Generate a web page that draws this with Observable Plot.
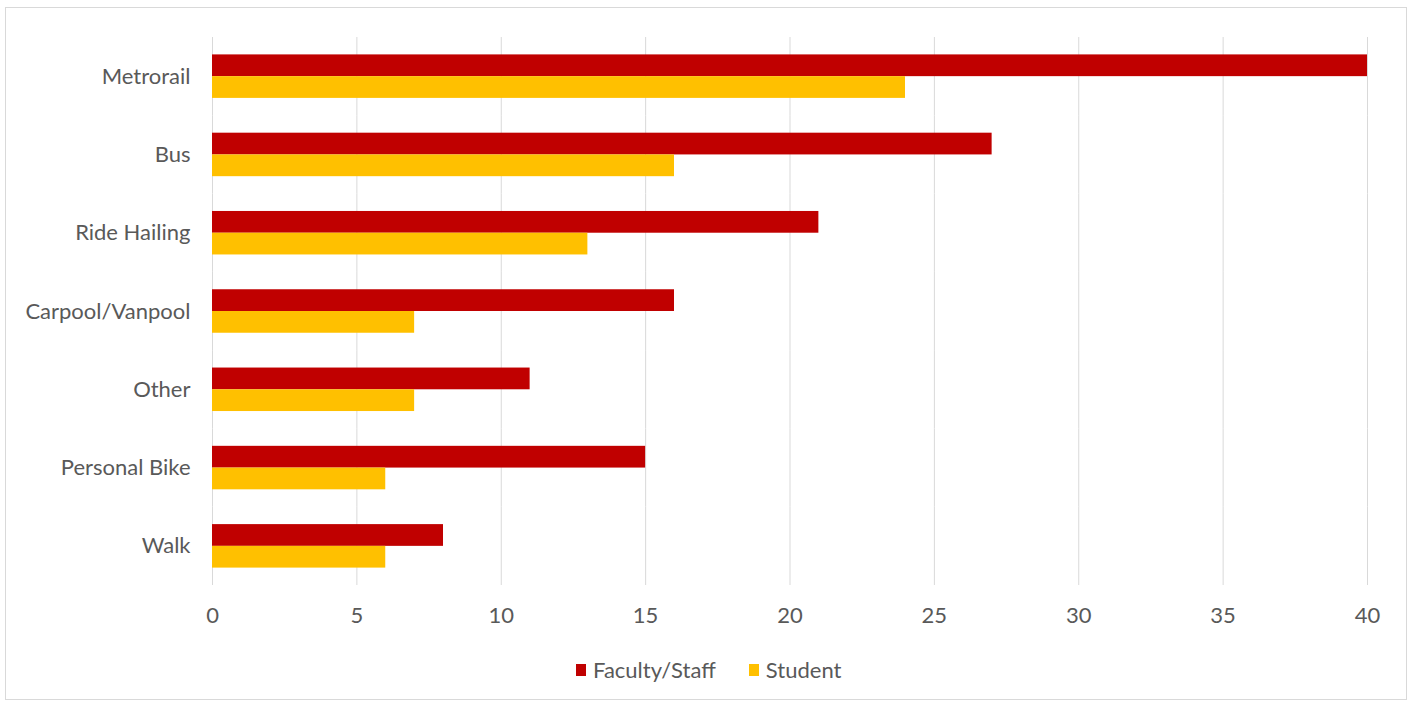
<!DOCTYPE html>
<html>
<head>
<meta charset="utf-8">
<script src="https://cdn.jsdelivr.net/npm/d3@7"></script>
<script src="https://cdn.jsdelivr.net/npm/@observablehq/plot@0.6"></script>
<style>
  html, body { margin: 0; padding: 0; background: #fff; }
  #wrap { position: relative; width: 1410px; height: 705px; overflow: hidden; font-family: Lato, "Open Sans", sans-serif; }
  #frame { position: absolute; left: 5px; top: 7px; width: 1402px; height: 693px; border: 1px solid #d9d9d9; box-sizing: border-box; }
  #chart { position: absolute; left: 0; top: 0; }
  #legend { position: absolute; left: 576px; top: 657px; height: 26px; display: flex; align-items: center; font-size: 22px; color: #595959; line-height: 26px; }
  .item { display: flex; align-items: center; }
  .item:first-child { margin-right: 33px; }
  .sw { width: 10px; height: 12px; margin-right: 7px; }
</style>
</head>
<body>
<div id="wrap">
  <div id="frame"></div>
  <div id="chart"></div>
  <div id="legend"></div>
</div>
<script>
const categories = ["Metrorail", "Bus", "Ride Hailing", "Carpool/Vanpool", "Other", "Personal Bike", "Walk"];
const series = ["Faculty/Staff", "Student"];
const facultyStaff = [40, 27, 21, 16, 11, 15, 8];
const student = [24, 16, 13, 7, 7, 6, 6];
const xTicks = [0, 5, 10, 15, 20, 25, 30, 35, 40];
const colors = ["#C00000", "#FFC000"];

const rows = [];
categories.forEach((c, i) => {
  rows.push({category: c, series: series[0], value: facultyStaff[i]});
  rows.push({category: c, series: series[1], value: student[i]});
});

const chart = Plot.plot({
  width: 1410,
  height: 645,
  marginLeft: 212,
  marginRight: 43,
  marginTop: 37,
  marginBottom: 60,
  style: {fontFamily: "Lato, 'Open Sans', sans-serif", fontSize: "22px", color: "#595959", background: "transparent"},
  x: {domain: [0, 40], axis: null},
  fy: {domain: categories, paddingInner: 0, paddingOuter: 0, axis: null, round: false},
  y: {domain: series, paddingInner: 0, paddingOuter: 0.8, axis: null, round: false},
  color: {domain: series, range: colors},
  marks: [
    Plot.gridX(xTicks, {stroke: "#d9d9d9", strokeOpacity: 1, strokeWidth: 1}),
    Plot.barX(rows, {x: "value", y: "series", fy: "category", fill: "series"}),
    Plot.axisFy({anchor: "left", tickSize: 0, tickPadding: 22, label: null, fill: "#595959"}),
    Plot.axisX(xTicks, {anchor: "bottom", tickSize: 0, tickPadding: 22, label: null, fill: "#595959", facetAnchor: "bottom"})
  ]
});
document.getElementById("chart").appendChild(chart);

const legend = document.getElementById("legend");
series.forEach((s, i) => {
  const item = document.createElement("div");
  item.className = "item";
  const sw = document.createElement("div");
  sw.className = "sw";
  sw.style.background = colors[i];
  const t = document.createElement("span");
  t.textContent = s;
  item.appendChild(sw);
  item.appendChild(t);
  legend.appendChild(item);
});
</script>
</body>
</html>
